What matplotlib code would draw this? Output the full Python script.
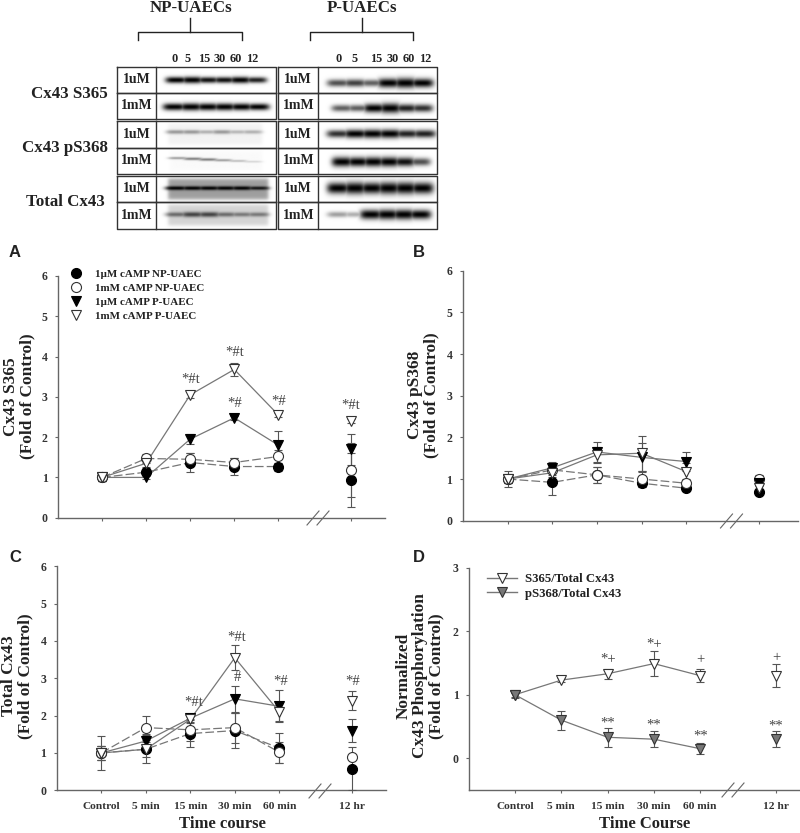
import matplotlib
matplotlib.use('Agg')
import matplotlib.pyplot as plt
import numpy as np

plt.rcParams['font.family'] = ['Liberation Serif', 'DejaVu Serif']
plt.rcParams['font.weight'] = 'bold'

W, H = 800, 833

time_labels = ['Control', '5 min', '15 min', '30 min', '60 min', '12 hr']
time_pos = [0, 1, 2, 3, 4, 5.64]

series_names = ['1µM cAMP NP-UAEC', '1mM cAMP NP-UAEC', '1µM cAMP P-UAEC', '1mM cAMP P-UAEC']

# panel A
a_np_1um = [1.0, 1.13, 1.37, 1.27, 1.27, 0.94]
a_np_1um_err = [0.1, 0.1, 0.23, 0.2, 0.1, 0.67]
a_np_1mm = [1.0, 1.47, 1.45, 1.37, 1.52, 1.18]
a_np_1mm_err = [0.1, 0.12, 0.15, 0.1, 0.15, 0.67]
a_p_1um = [1.0, 1.0, 1.95, 2.48, 1.8, 1.7]
a_p_1um_err = [0.08, 0.05, 0.12, 0.05, 0.35, 0.38]
a_p_1mm = [1.0, 1.35, 3.05, 3.68, 2.55, 2.4]
a_p_1mm_err = [0.08, 0.1, 0.08, 0.17, 0.05, 0.05]

# panel B
b_np_1um = [1.0, 0.92, 1.1, 0.9, 0.78, 0.68]
b_np_1um_err = [0.1, 0.3, 0.2, 0.08, 0.06, 0.05]
b_np_1mm = [1.0, 1.22, 1.1, 1.0, 0.9, 1.0]
b_np_1mm_err = [0.2, 0.12, 0.2, 0.2, 0.1, 0.1]
b_p_1um = [1.0, 1.27, 1.65, 1.52, 1.42, 0.9]
b_p_1um_err = [0.1, 0.13, 0.24, 0.35, 0.22, 0.05]
b_p_1mm = [1.0, 1.15, 1.58, 1.62, 1.18, 0.78]
b_p_1mm_err = [0.1, 0.1, 0.2, 0.42, 0.2, 0.05]

# panel C
c_np_1um = [1.0, 1.1, 1.52, 1.6, 1.13, 0.58]
c_np_1um_err = [0.2, 0.37, 0.36, 0.46, 0.4, 0.58]
c_np_1mm = [1.0, 1.68, 1.62, 1.68, 1.02, 0.9]
c_np_1mm_err = [0.2, 0.32, 0.3, 0.4, 0.28, 0.0]
c_p_1um = [1.0, 1.32, 1.93, 2.45, 2.25, 1.6]
c_p_1um_err = [0.2, 0.2, 0.1, 0.35, 0.43, 0.3]
c_p_1mm = [1.0, 1.1, 1.9, 3.55, 2.1, 2.4]
c_p_1mm_err = [0.45, 0.2, 0.1, 0.33, 0.25, 0.26]

# panel D
d_s365 = [1.0, 1.23, 1.33, 1.49, 1.3, 1.3]
d_s365_err = [0.03, 0.03, 0.08, 0.2, 0.1, 0.18]
d_ps368 = [1.0, 0.6, 0.33, 0.3, 0.15, 0.3]
d_ps368_err = [0.05, 0.15, 0.15, 0.13, 0.09, 0.13]

# significance marks: text, time position, height
a_marks = [('*#t', 2, 3.44), ('*#t', 3, 4.1), ('*#', 3, 2.84), ('*#', 4, 2.89), ('*#t', 5.64, 2.78)]
c_marks = [('*#t', 2.08, 2.35), ('*#t', 3.05, 4.1), ('#', 3.05, 3.03), ('*#', 4.02, 2.92), ('*#', 5.64, 2.92)]
d_marks = [('*+', 2, 1.57), ('*+', 3, 1.8), ('+', 4, 1.56), ('+', 5.64, 1.58),
           ('**', 2, 0.56), ('**', 3, 0.53), ('**', 4, 0.35), ('**', 5.64, 0.5)]

# western blot band strengths per lane (0 to 1)
lanes = ['0', '5', '15', '30', '60', '12']
row_names = ['1uM', '1mM'] * 3
group_names = ['Cx43 S365', 'Cx43 pS368', 'Total Cx43']
np_bands = [[0.8, 0.9, 0.75, 0.75, 0.85, 0.7],
            [0.9, 1.0, 0.95, 0.95, 0.9, 0.8],
            [0.3, 0.3, 0.22, 0.3, 0.2, 0.22],
            [0.3, 0.4, 0.4, 0.3, 0.2, 0.12],
            [0.85, 0.85, 0.85, 0.85, 0.85, 0.7],
            [0.4, 0.55, 0.55, 0.4, 0.35, 0.35]]
p_bands = [[0.55, 0.6, 0.5, 0.85, 1.0, 0.8],
           [0.5, 0.5, 0.8, 1.0, 0.7, 0.65],
           [0.65, 0.8, 0.85, 0.85, 0.7, 0.7],
           [0.85, 0.8, 0.85, 0.85, 0.75, 0.55],
           [0.85, 1.0, 0.9, 1.0, 1.0, 0.9],
           [0.3, 0.25, 0.9, 1.0, 1.0, 0.85]]
np_background = [1.0, 1.0, 0.95, 0.98, 0.62, 0.83]
p_background = [1.0, 1.0, 1.0, 1.0, 1.0, 1.0]

GRAY = '#666666'
ERR = '#555555'

fig = plt.figure(figsize=(W / 100, H / 100), dpi=100)
over = fig.add_axes([0, 0, 1, 1], zorder=5)
over.set_xlim(0, W)
over.set_ylim(H, 0)
over.axis('off')
over.patch.set_alpha(0)


def px_axes(left, right, top, bottom, t0, t_step, ylim):
    ax = fig.add_axes([left / W, 1 - bottom / H, (right - left) / W, (bottom - top) / H])
    ax.patch.set_alpha(0)
    ax.set_xlim((left - t0) / t_step, (right - t0) / t_step)
    ax.set_ylim(*ylim)
    ax.spines['top'].set_visible(False)
    ax.spines['right'].set_visible(False)
    for s in ['left', 'bottom']:
        ax.spines[s].set_color(GRAY)
        ax.spines[s].set_linewidth(1.0)
    ax.set_xticks(time_pos)
    ax.set_xticklabels([])
    ax.tick_params(axis='both', color=GRAY, length=2.5, width=0.8, labelsize=8.5, pad=3)
    ax.tick_params(axis='y', pad=5)
    return ax


def draw_series(ax, vals, errs, marker, face, ls, label=None, edge='#333333', ms=7.2):
    ax.errorbar(time_pos, vals, yerr=errs, fmt='none', ecolor=ERR, elinewidth=0.8, capsize=3, capthick=0.8, zorder=3)
    ax.plot(time_pos[:5], vals[:5], ls=ls, color='#777777', lw=0.9, zorder=3)
    ax.plot(time_pos, vals, ls='none', marker=marker, mfc=face, mec=edge, mew=0.8, ms=ms, zorder=4, label=label)


def four_series(ax, d1, e1, d2, e2, d3, e3, d4, e4):
    draw_series(ax, d1, e1, 'o', 'black', (0, (7, 2.5)), series_names[0], edge='black')
    draw_series(ax, d2, e2, 'o', 'white', (0, (7, 2.5)), series_names[1])
    draw_series(ax, d3, e3, 'v', 'black', '-', series_names[2], edge='black')
    draw_series(ax, d4, e4, 'v', 'white', '-', series_names[3])


def put_marks(ax, marks):
    for txt, x, y in marks:
        ax.text(x, y, txt, ha='center', va='center', fontsize=10.5, color='#444444', weight='normal', zorder=6)


def axis_break(x, y):
    for dx in (0, 10):
        over.plot([x + dx - 6, x + dx + 6], [y + 7, y - 7], color=GRAY, lw=0.8)


def draw_blot(x_band, y_band, strengths, bg, box, height, tilt=0.0):
    x0, x1, y0, y1 = box
    xs = np.linspace(x0, x1, 240)
    ys = np.linspace(y0, y1, 100)
    xx, yy = np.meshgrid(xs, ys)
    centers = np.linspace(x_band[0], x_band[1], 6)
    step = centers[1] - centers[0]
    dark = np.zeros_like(xx)
    for k, (c, s) in enumerate(zip(centers, strengths)):
        yc = y_band + tilt * k
        band = np.exp(-((xx - c) / (0.68 * step)) ** 4) * np.exp(-((yy - yc) / (height * (0.45 + 0.75 * s))) ** 2)
        dark = np.maximum(dark, band * min(1.0, s * 1.25))
    mask = (1 / (1 + np.exp(-(xx - x_band[0] + 8))) * 1 / (1 + np.exp(xx - x_band[1] - 10))
            * 1 / (1 + np.exp(-(yy - y0 - 2.5))) * 1 / (1 + np.exp(yy - y1 + 2.5)))
    back = 1 - (1 - bg) * mask
    img = back * (1 - dark)
    over.imshow(img, extent=(x0, x1, y1, y0), cmap='gray', vmin=0, vmax=1, aspect='auto',
                interpolation='bilinear', zorder=1)


# blots
row_top = [66.7, 93.3, 121.3, 147.7, 176, 202.3]
row_bot = [93.3, 119.3, 147.7, 174, 202.3, 228.7]
np_x = [(176, 256), (174, 258), (176, 252), (178, 252), (176, 258), (176, 258)]
np_y = [80, 106.7, 132.5, 158, 188.3, 215]
np_h = [3.0, 3.2, 3.0, 1.8, 1.8, 3.0]
np_tilt = [0, 0, 0, 0.7, 0, 0]
p_x = [(338, 422), (342, 422), (338, 424), (342, 420), (338, 422), (338, 420)]
p_y = [83, 108, 134.3, 161.7, 188.3, 215]
p_h = [4.2, 4.2, 4.0, 4.4, 5.0, 4.2]

for i in range(6):
    draw_blot(np_x[i], np_y[i], np_bands[i], np_background[i], (157, 275.5, row_top[i] + 0.5, row_bot[i] - 0.5), np_h[i], np_tilt[i])
    draw_blot(p_x[i], p_y[i], p_bands[i], p_background[i], (318, 436.5, row_top[i] + 0.5, row_bot[i] - 0.5), p_h[i])
    for lbl_x, left, div, right in [(137, 117, 156.3, 276), (298.3, 278.3, 317.7, 437)]:
        over.plot([left, right, right, left, left], [row_top[i], row_top[i], row_bot[i], row_bot[i], row_top[i]],
                  color='#333333', lw=1.0, zorder=2)
        over.plot([div, div], [row_top[i], row_bot[i]], color='#333333', lw=1.0, zorder=2)
        over.text(lbl_x, (row_top[i] + row_bot[i]) / 2 - 0.5, row_names[i], ha='center', va='center', fontsize=10, color='#222222')

for lab, x in zip(lanes, [175, 187.7, 204, 220, 236, 252]):
    over.text(x, 58.7, lab, ha='center', va='center', fontsize=8.8, color='#222222')
for lab, x in zip(lanes, [338.7, 355, 376, 393, 409, 425]):
    over.text(x, 58.7, lab, ha='center', va='center', fontsize=8.8, color='#222222')

over.text(190.7, 8, 'NP-UAECs', ha='center', va='center', fontsize=12.2, color='#222222')
over.text(362, 8, 'P-UAECs', ha='center', va='center', fontsize=12.2, color='#222222')
for lx, rx, mid in [(138.3, 242, 190), (309.7, 413.3, 361.7)]:
    over.plot([lx, lx, rx, rx], [40, 32, 32, 40], color='#222222', lw=1.0)
    over.plot([mid, mid], [18, 32], color='#222222', lw=1.0)
over.text(108, 94, group_names[0], ha='right', va='center', fontsize=12.2, color='#222222')
over.text(108, 147.7, group_names[1], ha='right', va='center', fontsize=12.2, color='#222222')
over.text(105, 201.7, group_names[2], ha='right', va='center', fontsize=12.2, color='#222222')

# panels
ax_a = px_axes(58, 385, 276, 517.7, 102, 44.1, (0, 6))
ax_b = px_axes(462.7, 798, 270.7, 520.7, 507.7, 44.6, (0, 6))
ax_c = px_axes(56.7, 385.7, 566.3, 790.3, 101.3, 44.5, (0, 6))
ax_d = px_axes(469, 799, 567.7, 790, 515, 46.3, (-0.5, 3))

four_series(ax_a, a_np_1um, a_np_1um_err, a_np_1mm, a_np_1mm_err, a_p_1um, a_p_1um_err, a_p_1mm, a_p_1mm_err)
four_series(ax_b, b_np_1um, b_np_1um_err, b_np_1mm, b_np_1mm_err, b_p_1um, b_p_1um_err, b_p_1mm, b_p_1mm_err)
four_series(ax_c, c_np_1um, c_np_1um_err, c_np_1mm, c_np_1mm_err, c_p_1um, c_p_1um_err, c_p_1mm, c_p_1mm_err)
draw_series(ax_d, d_s365, d_s365_err, 'v', 'white', '-', 'S365/Total Cx43')
draw_series(ax_d, d_ps368, d_ps368_err, 'v', '#777777', '-', 'pS368/Total Cx43')

put_marks(ax_a, a_marks)
put_marks(ax_c, c_marks)
put_marks(ax_d, d_marks)

ax_d.set_yticks([0, 1, 2, 3])
for ax in (ax_c, ax_d):
    ax.set_xticklabels(time_labels, fontsize=8.2, color='#333333')
    ax.tick_params(axis='x', pad=6)
for ax in (ax_a, ax_b, ax_c, ax_d):
    for t in ax.get_yticklabels():
        t.set_color('#333333')

handles, labels = ax_a.get_legend_handles_labels()
ax_a.legend(handles, labels, loc='upper left', bbox_to_anchor=(0.012, 1.05), frameon=False, fontsize=7.9,
            labelspacing=0.38, handletextpad=0.96, borderpad=0, handlelength=1.6, labelcolor='#222222')
h_d = [plt.Line2D([], [], color='#777777', lw=1.0, marker='v', mfc=f, mec='#333333', mew=0.8, ms=7.2)
       for f in ('white', '#777777')]
ax_d.legend(h_d, ['S365/Total Cx43', 'pS368/Total Cx43'], loc='upper left', bbox_to_anchor=(0.035, 1.005), frameon=False,
            fontsize=9.2, labelspacing=0.2, handletextpad=0.6, borderpad=0, handlelength=2.35, labelcolor='#222222')

for x, y in [(313, 518), (726.5, 521), (315, 791), (728, 790)]:
    axis_break(x, y)

over.text(19, 396.5, 'Cx43 S365\n(Fold of Control)', rotation=90, ha='center', va='center', fontsize=12.4,
          linespacing=1.0, color='#222222')
over.text(423, 395, 'Cx43 pS368\n(Fold of Control)', rotation=90, ha='center', va='center', fontsize=12.4,
          linespacing=1.0, color='#222222')
over.text(17, 676, 'Total Cx43\n(Fold of Control)', rotation=90, ha='center', va='center', fontsize=12.4,
          linespacing=1.0, color='#222222')
over.text(420, 676, 'Normalized\nCx43 Phosphorylation\n(Fold of Control)', rotation=90, ha='center', va='center',
          fontsize=12.4, linespacing=1.0, color='#222222')
over.text(222.7, 828.5, 'Time course', ha='center', va='baseline', fontsize=12, color='#222222')
over.text(645, 828.5, 'Time Course', ha='center', va='baseline', fontsize=12, color='#222222')

for lab, x, y in [('A', 15, 252.7), ('B', 419, 252.7), ('C', 15, 557), ('D', 419, 557)]:
    over.text(x, y, lab, ha='center', va='center', fontsize=12, family='Liberation Sans', color='#222222')

over.set_xlim(0, W)
over.set_ylim(H, 0)
fig.savefig('out.png', dpi=100)
